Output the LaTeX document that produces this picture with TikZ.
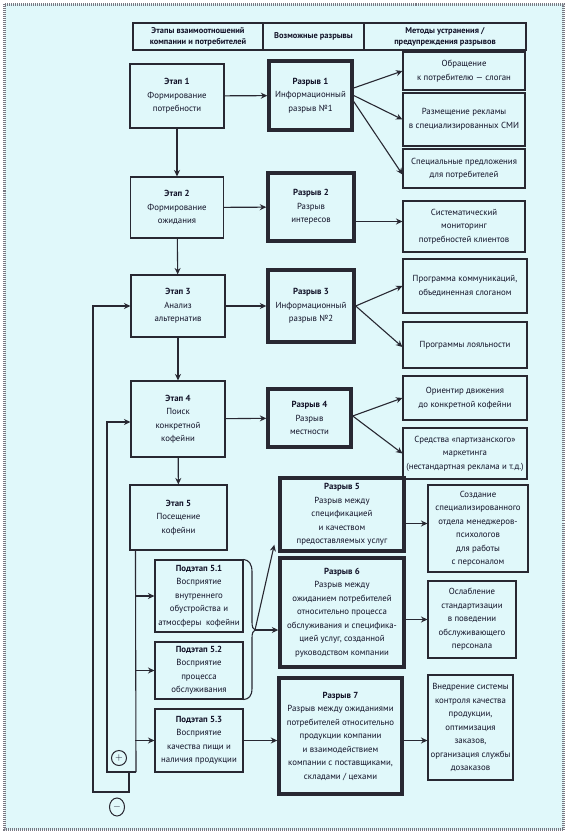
\documentclass[tikz,border=0pt]{standalone}
\usepackage{fontspec}
\setmainfont{PT Sans}
\usetikzlibrary{arrows.meta,shapes.geometric}
\definecolor{bgc}{RGB}{224,248,250}
\definecolor{txt}{RGB}{18,18,40}
\definecolor{ln}{RGB}{40,40,50}
\definecolor{frm}{RGB}{120,120,130}
\begin{document}
\begin{tikzpicture}[x=1pt,y=-1pt,
  base/.style={draw=ln, line width=1.1pt, align=center, inner sep=0pt, text=txt, font=\fontsize{8.8}{13.5}\selectfont},
  stagebox/.style={base},
  gapbox/.style={base, line width=3.4pt},
  methbox/.style={base},
  headbox/.style={base, font=\bfseries\fontsize{8.4}{11}\selectfont},
  arr/.style={draw=ln, line width=1.1pt, -{Stealth[length=6.5pt,width=6pt]}},
  wire/.style={draw=ln, line width=1.1pt},
  sign/.style={draw=ln, line width=1pt, inner sep=0pt, text=txt}
]
\useasboundingbox (0,0) rectangle (567,834);
\fill[white] (0,0) rectangle (567,834);
\fill[bgc] (4.5,4.5) rectangle (563.5,829.5);
\draw[frm, line width=3pt, dash pattern=on 1pt off 1pt] (4.5,4.5) rectangle (563.5,829.5);

% header
\node[headbox, minimum width=130pt, minimum height=27pt] (h1) at (198,36.5) {Этапы взаимоотношений\\компании и потребителей};
\node[headbox, minimum width=101pt, minimum height=27pt] (h2) at (313.5,36.5) {Возможные разрывы};
\node[headbox, minimum width=162pt, minimum height=27pt] (h3) at (445,36.5) {Методы устранения /\\предупреждения разрывов};

% stages
\node[stagebox, minimum width=94pt, minimum height=64pt] (e1) at (177,96) {\textbf{Этап 1}\\Формирование\\потребности};
\node[stagebox, minimum width=93pt, minimum height=61pt] (e2) at (177,207.5) {\textbf{Этап 2}\\Формирование\\ожидания};
\node[stagebox, minimum width=94pt, minimum height=62pt] (e3) at (178,306) {\textbf{Этап 3}\\Анализ\\альтернатив};
\node[stagebox, minimum width=94pt, minimum height=76pt] (e4) at (178,419) {\textbf{Этап 4}\\Поиск\\конкретной\\кофейни};
\node[stagebox, minimum width=97pt, minimum height=65pt] (e5) at (178.5,517.5) {\textbf{Этап 5}\\Посещение\\кофейни};
\node[stagebox, minimum width=88pt, minimum height=72pt] (s51) at (199,596) {\textbf{Подэтап 5.1}\\Восприятие\\внутреннего\\обустройства и\\атмосферы\ \ кофейни};
\node[stagebox, minimum width=88pt, minimum height=57pt] (s52) at (199,670.5) {\textbf{Подэтап 5.2}\\Восприятие\\процесса\\обслуживания};
\node[stagebox, minimum width=88pt, minimum height=63pt] (s53) at (199,740.5) {\textbf{Подэтап 5.3}\\Восприятие\\качества пищи и\\наличия продукции};

% gaps
\node[gapbox, minimum width=83pt, minimum height=69pt] (r1) at (310.5,95.5) {\textbf{Разрыв 1}\\Информационный\\разрыв №1};
\node[gapbox, minimum width=86pt, minimum height=68pt] (r2) at (311,207) {\textbf{Разрыв 2}\\Разрыв\\интересов};
\node[gapbox, minimum width=86pt, minimum height=72pt] (r3) at (311,306) {\textbf{Разрыв 3}\\Информационный\\разрыв №2};
\node[gapbox, minimum width=83pt, minimum height=58pt] (r4) at (309.5,418) {\textbf{Разрыв 4}\\Разрыв\\местности};
\node[gapbox, minimum width=124pt, minimum height=73pt] (r5) at (342,514.5) {\textbf{Разрыв 5}\\Разрыв между\\спецификацией\\и качеством\\предоставляемых услуг};
\node[gapbox, minimum width=124pt, minimum height=109pt] (r6) at (342,612.5) {\textbf{Разрыв 6}\\Разрыв между\\ожиданием потребителей\\относительно процесса\\обслуживания и специфика-\\цией услуг, созданной\\руководством компании};
\node[gapbox, minimum width=123pt, minimum height=116pt] (r7) at (340.5,736) {\textbf{Разрыв 7}\\Разрыв между ожиданиями\\потребителей относительно\\продукции компании\\и взаимодействием\\компании с поставщиками,\\складами / цехами};

% methods
\node[methbox, minimum width=122pt, minimum height=38pt] (m1a) at (464,71) {Обращение\\к потребителю — слоган};
\node[methbox, minimum width=122pt, minimum height=53pt] (m1b) at (464,119.5) {Размещение рекламы\\в специализированных СМИ};
\node[methbox, minimum width=122pt, minimum height=39pt] (m1c) at (464,168.5) {Специальные предложения\\для потребителей};
\node[methbox, minimum width=122pt, minimum height=51pt] (m2) at (464,226.5) {Систематический\\мониторинг\\потребностей клиентов};
\node[methbox, minimum width=124pt, minimum height=54pt] (m3a) at (465,286) {Программа коммуникаций,\\объединенная слоганом};
\node[methbox, minimum width=124pt, minimum height=46pt] (m3b) at (465,345) {Программы лояльности};
\node[methbox, minimum width=124pt, minimum height=44pt] (m4a) at (465,398) {Ориентир движения\\до конкретной кофейни};
\node[methbox, minimum width=124pt, minimum height=51pt] (m4b) at (465,453.5) {Средства «партизанского»\\маркетинга\\(нестандартная реклама и т.д.)};
\node[methbox, minimum width=100pt, minimum height=87pt] (m5) at (478,528.5) {Создание\\специализированного\\отдела менеджеров-\\психологов\\для работы\\с персоналом};
\node[methbox, minimum width=88pt, minimum height=77pt] (m6) at (472,619.5) {Ослабление\\стандартизации\\в поведении\\обслуживающего\\персонала};
\node[methbox, minimum width=85pt, minimum height=105pt] (m7) at (470.5,727.5) {Внедрение системы\\контроля качества\\продукции,\\оптимизация\\заказов,\\организация службы\\дозаказов};

% vertical flow
\draw[arr] (e1) -- (e2);
\draw[arr] (e2) -- (e3);
\draw[arr] (e3) -- (e4);
\draw[arr] (e4) -- (e5);

% stage -> gap
\draw[arr] (e1) -- (r1);
\draw[arr] (e2) -- (r2);
\draw[arr] (e3) -- (r3);
\draw[arr] (e4) -- (r4);

% gap -> methods
\draw[arr] ([yshift=7.5pt]r1.east) -- (m1a.west);
\draw[arr] (r1.east) -- (m1b.west);
\draw[arr] ([yshift=-6pt]r1.east) -- ([yshift=-6pt]m1c.west);
\draw[arr] ([yshift=5pt]m2.west -| r2.east) -- ([yshift=5pt]m2.west);
\draw[arr] (r3.east) -- (m3a.west);
\draw[arr] (r3.east) -- ([yshift=-2pt]m3b.west);
\draw[arr] ([yshift=2pt]r4.east) -- (m4a.west);
\draw[arr] ([yshift=2pt]r4.east) -- (m4b.west);
\draw[arr] ([yshift=5pt]m5.west -| r5.east) -- ([yshift=5pt]m5.west);
\draw[arr] (m6.west -| r6.east) -- (m6.west);
\draw[arr] ([yshift=-13pt]m7.west -| r7.east) -- ([yshift=-13pt]m7.west);

% substage branch
\coordinate (j0) at ([xshift=6pt]e5.south west);
\coordinate (jb) at (136,772);
\draw[wire] (j0) -- (jb);
\draw[arr] (j0 |- s51.west) -- (s51.west);
\draw[arr] (j0 |- s52.west) -- (s52.west);
\draw[arr] (j0 |- s53.west) -- (s53.west);

% brace for 5.1 and 5.2
\coordinate (tip) at (255,630);
\draw[wire] (s51.north east) .. controls (249,560) and (252,564) .. (252,572) -- (252,622)
  .. controls (252,627) and (253,629) .. (tip)
  .. controls (253,631) and (252,633) .. (252,638) -- (252,688)
  .. controls (252,696) and (249,699) .. (s52.south east);
\draw[arr] (tip) -- ([xshift=-4pt,yshift=8pt]r5.south west);
\draw[arr] (tip) -- (tip -| r6.west);
\draw[arr] (s53.east) -- (s53.east -| r7.west);

% feedback loops
\coordinate (ib) at (107,772);
\draw[arr] (jb) -- (ib) -- (ib |- 0,422) -- ([yshift=-3pt]e4.west);
\coordinate (oc) at (129,772);
\coordinate (od) at (129,792);
\coordinate (ob) at (93,792);
\draw[arr] (oc) -- (od) -- (ob) -- (ob |- e3.west) -- (e3.west);

\node[sign, circle, minimum size=15pt] (plus) at (119,758) {$+$};
\node[sign, ellipse, minimum width=15pt, minimum height=18pt] (minus) at (117,807) {$-$};
\end{tikzpicture}
\end{document}
